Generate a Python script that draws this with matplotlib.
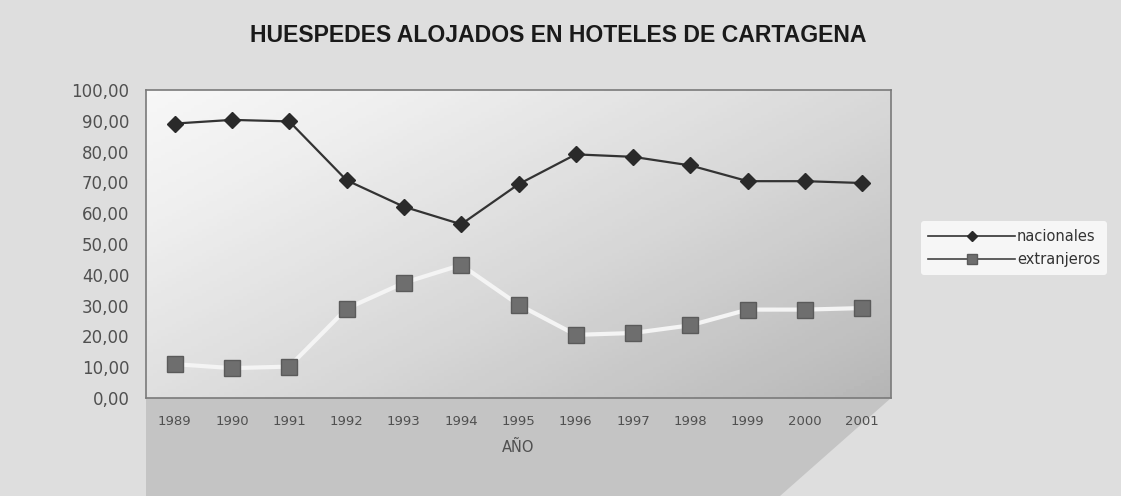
import numpy as np
import matplotlib.pyplot as plt
from matplotlib.lines import Line2D
from matplotlib.patches import Polygon

# datos
anios = ['1989', '1990', '1991', '1992', '1993', '1994', '1995',
         '1996', '1997', '1998', '1999', '2000', '2001']
nacionales = [89.1, 90.3, 89.8, 70.7, 62.1, 56.4, 69.4, 79.1, 78.3, 75.5, 70.4, 70.4, 69.8]
extranjeros = [11.0, 9.7, 10.2, 29.0, 37.4, 43.2, 30.3, 20.5, 21.1, 23.6, 28.7, 28.7, 29.2]
y_ticks = [0, 10, 20, 30, 40, 50, 60, 70, 80, 90, 100]

W, H = 1121, 496
fig = plt.figure(figsize=(W / 100, H / 100), dpi=100, facecolor='#dedede')

# cuña gris bajo el grafico
fig.patches.append(Polygon([(146 / W, 1 - 398 / H), (891 / W, 1 - 398 / H),
                            (780 / W, 0), (146 / W, 0)],
                           closed=True, transform=fig.transFigure,
                           facecolor='#c4c4c4', edgecolor='none', zorder=0))

ax = fig.add_axes([146 / W, 1 - 398 / H, (891 - 146) / W, (398 - 90) / H])
ax.set_zorder(1)

# fondo degradado del area de trazado
gx, gy = np.meshgrid(np.linspace(0, 1, 200), np.linspace(0, 1, 100))
grad = 0.55 * gx + 0.45 * gy
ax.imshow(grad, extent=[-0.5, 12.5, 0, 100], aspect='auto', cmap='Greys',
          vmin=-0.2, vmax=2.8, origin='upper', zorder=0)

x = np.arange(len(anios))
ax.plot(x, nacionales, color='#333333', lw=1.6, marker='D', markersize=8,
        markerfacecolor='#2a2a2a', markeredgecolor='#2a2a2a', zorder=3)
ax.plot(x, extranjeros, color='#f4f4f4', lw=3, marker='s', markersize=11,
        markerfacecolor='#6e6e6e', markeredgecolor='#5a5a5a', zorder=3)

ax.set_xlim(-0.5, 12.5)
ax.set_ylim(0, 100)
ax.set_yticks(y_ticks)
ax.set_yticklabels([f'{v:.2f}'.replace('.', ',') for v in y_ticks],
                   fontsize=12, color='#505050', family='DejaVu Sans')
ax.set_xticks(x)
ax.set_xticklabels(anios, fontsize=9.5, color='#505050', family='DejaVu Sans')
ax.tick_params(length=0, pad=12, axis='y')
ax.tick_params(length=0, pad=12, axis='x')
for s in ax.spines.values():
    s.set_color('#7a7a7a')
    s.set_linewidth(1.2)

ax.set_xlabel('AÑO', fontsize=10.5, color='#505050', labelpad=9)

fig.text(558 / W, 1 - 35 / H, 'HUESPEDES ALOJADOS EN HOTELES DE CARTAGENA',
         ha='center', va='center', fontsize=16.6, fontweight='bold',
         family='Liberation Sans', color='#1a1a1a')

handles = [Line2D([], [], color='#333333', lw=1.2, marker='D', markersize=5,
                  markerfacecolor='#2a2a2a', markeredgecolor='#2a2a2a'),
           Line2D([], [], color='#444444', lw=1.2, marker='s', markersize=7,
                  markerfacecolor='#6e6e6e', markeredgecolor='#5a5a5a')]
leg = fig.legend(handles, ['nacionales', 'extranjeros'], loc='center',
                 bbox_to_anchor=(1014 / W, 1 - 248 / H), frameon=True,
                 fontsize=10.5, handlelength=6, labelspacing=0.6,
                 handletextpad=0.1, borderpad=0.5)
leg.get_frame().set_facecolor('#f6f6f6')
leg.get_frame().set_edgecolor('none')
leg.get_frame().set_alpha(1)
for t in leg.get_texts():
    t.set_color('#333333')

fig.savefig('out.png', dpi=100, facecolor=fig.get_facecolor())
